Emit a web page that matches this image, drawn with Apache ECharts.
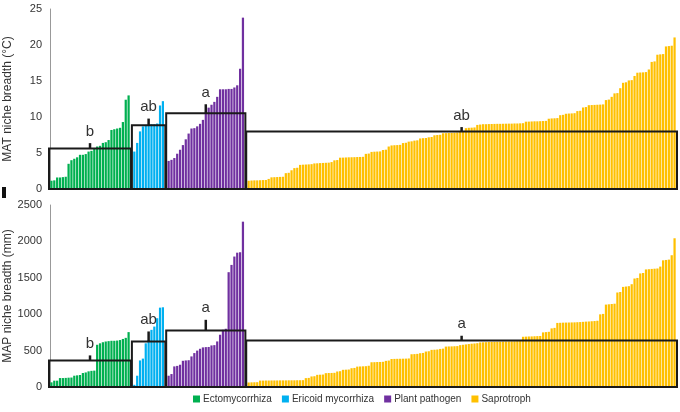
<!DOCTYPE html>
<html><head><meta charset="utf-8">
<script src="https://cdn.jsdelivr.net/npm/echarts@6/dist/echarts.min.js"></script>
<style>html,body{margin:0;padding:0;background:#fff}#c{width:680px;height:412px}</style>
</head><body><div id="c"></div>
<script>
const groups = ['Ectomycorrhiza','Ericoid mycorrhiza','Plant pathogen','Saprotroph'];
const colors = ['#00B050','#00B0F0','#7030A0','#FFC000'];

// MAT niche breadth (°C), sorted within each group
const matEcto = [1.15,1.2,1.6,1.6,1.65,1.7,3.5,4.0,4.2,4.4,4.75,4.75,4.85,5.2,5.3,5.6,5.9,6.0,6.4,6.5,6.8,8.2,8.3,8.4,8.5,9.3,12.4,13.0];
const matEric = [5.2,6.4,8.0,8.7,8.9,8.9,9.0,9.0,9.1,11.6,12.2];
const matPath = [3.9,4.05,4.3,4.9,5.45,6.1,6.9,7.7,8.4,8.45,8.7,9.05,9.6,10.6,11.3,11.7,12.1,12.8,13.85,13.85,13.85,13.9,13.9,14.1,14.4,16.7,23.8];
const matSapro = [1.15,1.18,1.2,1.2,1.22,1.24,1.25,1.4,1.62,1.64,1.66,1.68,1.7,2.2,2.25,2.6,2.9,2.95,
  3.35,3.38,3.4,3.42,3.45,3.55,3.57,3.6,3.62,3.64,3.66,3.74,3.98,4.02,
  4.35,4.36,4.38,4.4,4.41,4.42,4.44,4.45,4.47,4.88,4.92,5.15,5.18,5.2,5.22,5.42,5.46,5.9,
  6.05,6.08,6.1,6.13,6.38,6.42,6.58,6.62,6.72,6.76,7.02,7.06,7.08,7.18,7.22,7.46,7.5,7.53,
  7.74,7.76,7.78,7.8,7.82,7.85,7.95,8.0,8.45,8.5,8.52,8.55,
  8.9,8.95,9.0,9.0,9.02,9.03,9.04,9.05,9.05,9.06,9.07,9.08,9.08,9.1,9.1,9.12,9.14,
  9.35,9.36,9.38,9.4,9.4,9.42,9.44,9.46,9.76,9.8,9.82,9.85,10.25,10.3,10.45,10.48,10.5,10.53,
  10.82,10.86,11.32,11.38,11.64,11.66,11.68,11.7,11.72,11.75,12.35,12.42,12.8,13.28,13.32,14.0,
  14.75,14.82,15.08,15.12,15.7,16.15,16.18,16.2,16.24,16.6,17.65,17.72,18.65,18.7,18.74,19.8,19.85,19.9,21.05];

// MAP niche breadth (mm), sorted within each group
const mapEcto = [64,87,87,123,123,125,128,130,155,160,165,192,200,215,222,225,580,600,615,625,630,635,635,638,645,660,675,754];
const mapEric = [30,155,365,390,600,640,785,830,945,1090,1095];
const mapPath = [155,178,283,290,306,360,365,368,420,466,500,525,544,548,550,571,575,626,718,786,800,1577,1677,1792,1845,1851,2271];
const mapSapro = [62,64,65,66,88,88,89,89,90,90,90,91,91,91,92,92,92,93,93,94,122,125,145,148,167,169,171,
  190,192,193,195,213,217,236,238,240,258,262,280,282,284,286,292,340,341,343,344,346,359,363,
  385,386,387,388,389,390,392,450,452,455,464,468,487,491,510,512,515,523,527,555,557,558,560,562,
  575,580,585,590,595,598,602,612,614,616,618,620,621,622,623,624,625,626,627,628,630,632,
  690,692,694,695,697,699,701,750,754,758,805,812,880,882,884,885,886,887,888,890,892,895,898,900,903,906,910,
  998,1004,1132,1136,1140,1144,1298,1305,1375,1380,1385,1412,1490,1498,1560,1566,1615,1618,1622,1625,1628,
  1654,1740,1745,1750,1810,2043];

// group means, upper error and significance letters
const matMeans = [5.62, 8.86, 10.52, 7.98];
const matErrTop = [6.37, 9.78, 11.77, 8.6];
const matLetters = ['b','ab','a','ab'];
const mapMeans = [365, 626, 776, 640];
const mapErrTop = [434, 763, 923, 704];
const mapLetters = ['b','ab','a','a'];

const matTicks = {min:0, max:25, interval:5};
const mapTicks = {min:0, max:2500, interval:500};

const matGroups = [matEcto, matEric, matPath, matSapro];
const mapGroups = [mapEcto, mapEric, mapPath, mapSapro];

// slot layout: one empty slot between groups
const starts = []; let pos = 0;
matGroups.forEach((g, i) => { starts.push(pos); pos += g.length + 1; });
const N = pos - 1;
const cats = Array.from({length:N}, (_, i) => String(i));

function barSeries(gs, axisIdx, stack) {
  return gs.map((g, gi) => {
    const d = new Array(N).fill(null);
    g.forEach((v, j) => { d[starts[gi] + j] = v; });
    return {name: groups[gi], type:'bar', xAxisIndex:axisIdx, yAxisIndex:axisIdx, stack:stack,
      data:d, barCategoryGap:'22%', itemStyle:{color:colors[gi]}, silent:true, z:2};
  });
}

function boxSeries(gs, means, errs, letters, axisIdx) {
  const data = gs.map((g, gi) => [starts[gi], starts[gi] + g.length - 1, means[gi], errs[gi]]);
  return {type:'custom', xAxisIndex:axisIdx, yAxisIndex:axisIdx, silent:true, z:5,
    encode:{x:[0,1], y:[2,3]}, data:data,
    renderItem:function(params, api){
      const s = api.value(0), e = api.value(1), m = api.value(2), t = api.value(3);
      const bw = api.size([1,0])[0];
      const p0 = api.coord([s, 0]);
      const p1 = api.coord([e, m]);
      const yt = api.coord([e, t])[1];
      const x0 = p0[0] - bw/2 - 1, x1 = p1[0] + bw/2 + 1;
      const cx = (x0 + x1) / 2;
      return {type:'group', children:[
        {type:'rect', shape:{x:x0, y:p1[1], width:x1-x0, height:p0[1]-p1[1]},
          style:{fill:'none', stroke:'#1a1a1a', lineWidth:2}},
        {type:'line', shape:{x1:cx, y1:p1[1], x2:cx, y2:yt}, style:{stroke:'#1a1a1a', lineWidth:2.5}},
        {type:'text', style:{x:cx, y:yt-4, text:letters[params.dataIndex], align:'center', verticalAlign:'bottom',
          fill:'#333', font:'15px "Liberation Sans", Arial, sans-serif'}}
      ]};
    }};
}

const yCommon = (name, t) => ({type:'value', min:t.min, max:t.max, interval:t.interval, name:name,
  nameLocation:'middle', nameGap:36, nameRotate:90, nameMoveOverlap:false,
  nameTextStyle:{fontSize:12, color:'#333', fontFamily:'Liberation Sans'},
  axisLine:{show:true, lineStyle:{color:'#999', width:1}}, axisTick:{show:false}, splitLine:{show:false},
  axisLabel:{fontSize:11, color:'#333', margin:8, fontFamily:'Liberation Sans', formatter:v => String(v)}});

const chart = echarts.init(document.getElementById('c'), null, {renderer:'canvas'});
chart.setOption({
  animation:false,
  backgroundColor:'#fff',
  grid:[{left:50, right:4, top:9, height:180, containLabel:false, outerBoundsMode:'none'},
        {left:50, right:4, top:205, height:182, containLabel:false, outerBoundsMode:'none'}],
  xAxis:[0,1].map(i => ({type:'category', gridIndex:i, data:cats, axisLine:{show:false}, axisTick:{show:false}, axisLabel:{show:false}})),
  yAxis:[Object.assign({gridIndex:0}, yCommon('MAT niche breadth (°C)', matTicks)),
         Object.assign({gridIndex:1}, yCommon('MAP niche breadth (mm)', mapTicks))],
  legend:{data:groups, bottom:3, left:188, icon:'rect', itemWidth:7, itemHeight:7, itemGap:10,
    textStyle:{fontSize:10, color:'#333', fontFamily:'Liberation Sans', padding:[0,0,0,-2]}},
  graphic:[{type:'rect', left:2, top:187, shape:{width:4, height:11}, style:{fill:'#111'}}],
  series:[].concat(
    barSeries(matGroups, 0, 'mat'),
    barSeries(mapGroups, 1, 'map'),
    [boxSeries(matGroups, matMeans, matErrTop, matLetters, 0),
     boxSeries(mapGroups, mapMeans, mapErrTop, mapLetters, 1)])
});
</script></body></html>
